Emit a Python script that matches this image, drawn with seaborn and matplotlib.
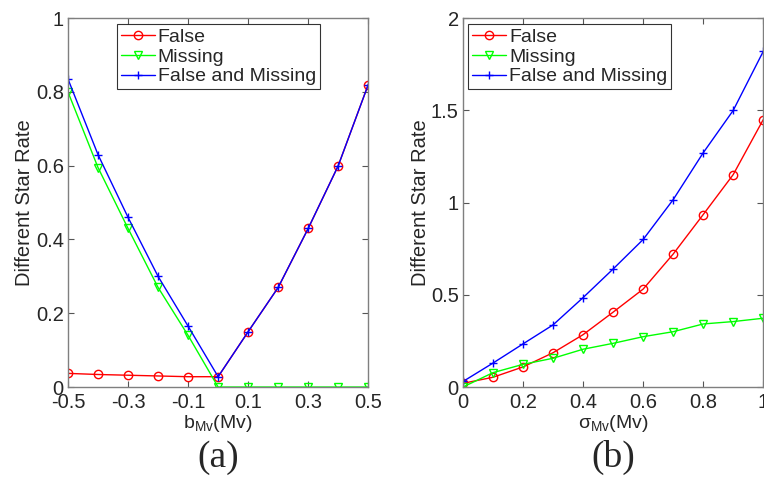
import numpy as np
import pandas as pd
import matplotlib
matplotlib.use("Agg")
import matplotlib.pyplot as plt
import seaborn as sns

# panel (a): bias of Mv
bias = [-0.5, -0.4, -0.3, -0.2, -0.1, 0.0, 0.1, 0.2, 0.3, 0.4, 0.5]
a_false = [0.037, 0.034, 0.032, 0.030, 0.028, 0.028, 0.15, 0.27, 0.43, 0.60, 0.82]
a_missing = [0.80, 0.595, 0.43, 0.27, 0.14, 0.0, 0.0, 0.0, 0.0, 0.0, 0.0]
a_both = [0.835, 0.63, 0.46, 0.30, 0.165, 0.028, 0.15, 0.27, 0.43, 0.60, 0.82]

# panel (b): sigma of Mv
sigma = [0.0, 0.1, 0.2, 0.3, 0.4, 0.5, 0.6, 0.7, 0.8, 0.9, 1.0]
b_false = [0.02, 0.053, 0.109, 0.186, 0.284, 0.406, 0.531, 0.721, 0.935, 1.152, 1.45]
b_missing = [0.0, 0.078, 0.123, 0.156, 0.205, 0.237, 0.273, 0.30, 0.342, 0.355, 0.373]
b_both = [0.03, 0.13, 0.234, 0.337, 0.485, 0.64, 0.80, 1.016, 1.27, 1.50, 1.82]

series = ["False", "Missing", "False and Missing"]
colors = ["#ff0000", "#00ff00", "#0000ff"]
markers = ["o", "v", "+"]

sns.set_style("white")
plt.rcParams["font.family"] = ["Liberation Sans", "DejaVu Sans"]
plt.rcParams["mathtext.fontset"] = "custom"
plt.rcParams["mathtext.rm"] = "Liberation Sans"
plt.rcParams["mathtext.it"] = "Liberation Sans:italic"

fig = plt.figure(figsize=(7.64, 4.79), dpi=100)
ax1 = fig.add_axes([0.089, 0.192, 0.393, 0.770])
ax2 = fig.add_axes([0.606, 0.192, 0.393, 0.770])


def draw(ax, x, ys, anchor):
    for name, y, c, m in zip(series, ys, colors, markers):
        df = pd.DataFrame({"x": x, "y": y})
        sns.lineplot(data=df, x="x", y="y", ax=ax, color=c, marker=m,
                     markersize=6, markerfacecolor="none", markeredgecolor=c,
                     markeredgewidth=1.0, linewidth=1.0, label=name)
    for s in ax.spines.values():
        s.set_color("#7f7f7f")
        s.set_linewidth(1.0)
    ax.tick_params(direction="in", length=4, color="#555555", labelsize=14.5,
                   top=True, right=True, bottom=True, left=True)
    ax.tick_params(axis="x", pad=4)
    ax.tick_params(axis="y", pad=3)
    ax.set_ylabel("Different Star Rate", fontsize=14.5, labelpad=1)
    leg = ax.legend(fontsize=14, frameon=True, fancybox=False, loc="upper left",
                    bbox_to_anchor=anchor, handlelength=1.75,
                    handletextpad=0.15, borderpad=0.2, labelspacing=0.12,
                    borderaxespad=0.0)
    leg.get_frame().set_edgecolor("#000000")
    leg.get_frame().set_linewidth(0.8)
    return leg


draw(ax1, bias, [a_false, a_missing, a_both], (0.163, 0.984))
ax1.set_xlim(-0.5, 0.5)
ax1.set_ylim(0, 1)
ax1.set_xticks([-0.5, -0.3, -0.1, 0.1, 0.3, 0.5])
ax1.set_xticklabels(["-0.5", "-0.3", "-0.1", "0.1", "0.3", "0.5"])
ax1.set_yticks([0, 0.2, 0.4, 0.6, 0.8, 1.0])
ax1.set_yticklabels(["0", "0.2", "0.4", "0.6", "0.8", "1"])
ax1.set_xlabel(r"b$_{\rm Mv}$(Mv)", fontsize=14, labelpad=1)

draw(ax2, sigma, [b_false, b_missing, b_both], (0.017, 0.984))
ax2.set_xlim(0, 1)
ax2.set_ylim(0, 2)
ax2.set_xticks([0, 0.2, 0.4, 0.6, 0.8, 1.0])
ax2.set_xticklabels(["0", "0.2", "0.4", "0.6", "0.8", "1"])
ax2.set_yticks([0, 0.5, 1.0, 1.5, 2.0])
ax2.set_yticklabels(["0", "0.5", "1", "1.5", "2"])
ax2.set_xlabel(r"σ$_{\rm Mv}$(Mv)", fontsize=14, labelpad=1)

fig.text(0.089 + 0.393 / 2, 0.044, "(a)", fontsize=27, ha="center",
         va="center", family="Liberation Serif")
fig.text(0.606 + 0.393 / 2, 0.044, "(b)", fontsize=27, ha="center",
         va="center", family="Liberation Serif")

plt.savefig("out.png", dpi=100)
plt.close()
